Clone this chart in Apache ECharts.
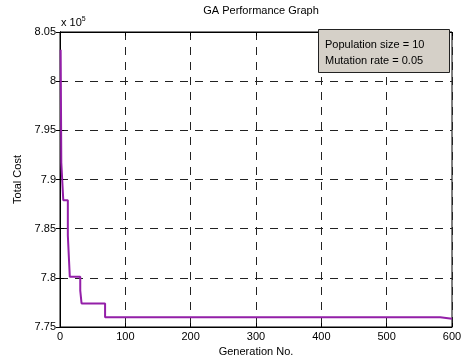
<!DOCTYPE html>
<html>
<head>
<meta charset="utf-8">
<script src="https://cdn.jsdelivr.net/npm/echarts@6/dist/echarts.min.js"></script>
<style>
  html, body { margin: 0; padding: 0; background: #fff; }
  #chart { width: 461px; height: 357px; }
</style>
</head>
<body>
<div id="chart"></div>
<script>
// generation where each best cost starts, and the cost held from there
const generations = [1, 2, 5, 12, 15, 31, 33, 69, 582, 600];
const totalCost = [803200, 791700, 787900, 784300, 780100, 778700, 777400, 776000, 775850, 775850];
const xTicks = [0, 100, 200, 300, 400, 500, 600];
const noteLines = ['Population size = 10', 'Mutation rate = 0.05'];

const font = 'Liberation Sans, Arial, sans-serif';
const chart = echarts.init(document.getElementById('chart'));

const points = generations.map((g, i) => [g, totalCost[i]]);

chart.setOption({
  animation: false,
  backgroundColor: '#fff',
  title: {
    text: 'GA Performance Graph',
    left: 256,
    top: 0,
    textAlign: 'center',
    textStyle: { fontFamily: font, fontSize: 11, fontWeight: 'normal', color: '#000' }
  },
  grid: {
    left: 60, right: 9, top: 32, bottom: 30,
    containLabel: false, outerBoundsMode: 'none',
    show: true, borderColor: '#000', borderWidth: 1, backgroundColor: '#fff'
  },
  xAxis: [{
    type: 'value',
    min: 0, max: 600, interval: 100,
    name: 'Generation No.',
    nameLocation: 'middle',
    nameGap: 19,
    nameTextStyle: { fontFamily: font, fontSize: 11, color: '#000' },
    axisLine: { lineStyle: { color: '#000' } },
    axisTick: { inside: true, length: 4, lineStyle: { color: '#000' } },
    axisLabel: {
      fontFamily: font, fontSize: 11, color: '#000', margin: 4,
      customValues: xTicks
    },
    splitLine: { show: true, lineStyle: { color: '#222', type: [8, 7], width: 1 } }
  }, {
    type: 'value', position: 'top',
    min: 0, max: 600, interval: 100,
    axisLine: { show: true, lineStyle: { color: '#000' } },
    axisTick: { inside: true, length: 4, lineStyle: { color: '#000' } },
    axisLabel: { show: false },
    splitLine: { show: false }
  }],
  yAxis: [{
    type: 'value',
    min: 775000, max: 805000, interval: 5000,
    name: 'Total Cost',
    nameLocation: 'middle',
    nameGap: 33,
    nameTextStyle: { fontFamily: font, fontSize: 11, color: '#000' },
    axisLine: { show: true, lineStyle: { color: '#000' } },
    axisTick: { show: true, inside: true, length: 4, lineStyle: { color: '#000' } },
    axisLabel: {
      fontFamily: font, fontSize: 11, color: '#000', margin: 4,
      formatter: v => String(parseFloat((v / 1e5).toFixed(2)))
    },
    splitLine: { show: true, lineStyle: { color: '#222', type: [8, 7], width: 1 } }
  }, {
    type: 'value', position: 'right',
    min: 775000, max: 805000, interval: 5000,
    axisLine: { show: true, lineStyle: { color: '#000' } },
    axisTick: { show: true, inside: true, length: 4, lineStyle: { color: '#000' } },
    axisLabel: { show: false },
    splitLine: { show: false }
  }],
  series: [{
    type: 'line',
    step: 'end',
    data: points,
    symbol: 'none',
    lineStyle: { color: '#931fa8', width: 2 },
    z: 5
  }],
  graphic: [
    {
      type: 'text', left: 61, top: 16,
      style: {
        text: 'x 10{sup|5}',
        rich: { sup: { fontSize: 7, verticalAlign: 'top', padding: [0, 0, 6, 0] } },
        fontFamily: font, fontSize: 11, fill: '#000'
      }
    },
    {
      type: 'rect', left: 318, top: 29, z: 10,
      shape: { width: 131, height: 43 },
      style: { fill: '#d5d0c8', stroke: '#222', lineWidth: 1 }
    },
    {
      type: 'text', left: 325, top: 37, z: 11,
      style: { text: noteLines.join('\n'), lineHeight: 16, fontFamily: font, fontSize: 11, fill: '#000' }
    }
  ]
});
</script>
</body>
</html>
